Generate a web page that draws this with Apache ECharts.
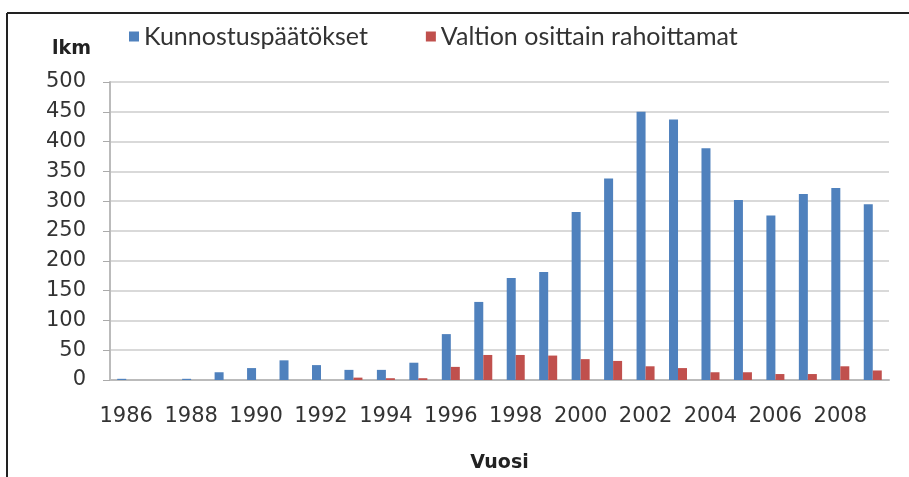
<!DOCTYPE html>
<html>
<head>
<meta charset="utf-8">
<script src="https://cdn.jsdelivr.net/npm/echarts@6/dist/echarts.min.js"></script>
<style>
  html, body { margin: 0; padding: 0; background: #fff; }
  #chart { width: 909px; height: 477px; }
</style>
</head>
<body>
<div id="chart"></div>
<script>
const years = ['1986', '1987', '1988', '1989', '1990', '1991', '1992', '1993', '1994', '1995', '1996', '1997',
  '1998', '1999', '2000', '2001', '2002', '2003', '2004', '2005', '2006', '2007', '2008', '2009']
const kunnostus = [2, 0, 2, 13, 20, 33, 25, 17, 17, 29, 77, 131, 171, 181, 282, 338, 450, 437, 389, 302, 276, 312, 322, 295]
const valtion = [0, 0, 0, 0, 0, 0, 0, 4, 3, 3, 22, 42, 42, 41, 35, 32, 23, 20, 13, 13, 10, 10, 23, 16]
const seriesNames = ['Kunnostuspäätökset', 'Valtion osittain rahoittamat']

const chart = echarts.init(document.getElementById('chart'))
chart.setOption({
  animation: false,
  color: ['#4f81bd', '#c0504d'],
  grid: { left: 110, right: 20, top: 82, bottom: 97, containLabel: false, outerBoundsMode: 'none' },
  legend: {
    left: 124,
    top: 19,
    itemWidth: 10,
    itemHeight: 10,
    itemGap: 58,
    icon: 'rect',
    textStyle: { fontFamily: 'Lato', fontSize: 25, color: '#333' },
    data: seriesNames
  },
  graphic: [
    { type: 'line', shape: { x1: 7, y1: 13, x2: 909, y2: 13 }, style: { stroke: '#222', lineWidth: 2 } },
    { type: 'line', shape: { x1: 7, y1: 13, x2: 7, y2: 477 }, style: { stroke: '#222', lineWidth: 2 } },
    { type: 'text', left: 52, top: 40, style: { text: 'lkm', font: 'bold 19px "DejaVu Sans"', fill: '#222' } }
  ],
  xAxis: {
    type: 'category',
    data: years,
    name: 'Vuosi',
    nameLocation: 'middle',
    nameGap: 74,
    nameTextStyle: { fontFamily: 'DejaVu Sans', fontWeight: 'bold', fontSize: 19, color: '#222' },
    axisLine: { lineStyle: { color: '#bbb', width: 2 } },
    axisTick: { interval: 0, length: 5, lineStyle: { color: '#aaa' } },
    axisLabel: { interval: 1, margin: 26, fontFamily: 'DejaVu Sans', fontSize: 21, color: '#333' }
  },
  yAxis: {
    type: 'value',
    min: 0,
    max: 500,
    interval: 50,
    axisLine: { show: true, lineStyle: { color: '#bbb', width: 2 } },
    axisTick: { show: true, length: 7, lineStyle: { color: '#aaa' } },
    axisLabel: { margin: 24, fontFamily: 'DejaVu Sans', fontSize: 21, color: '#333' },
    splitLine: { lineStyle: { color: '#d9d9d9', width: 2 } }
  },
  series: [
    { name: seriesNames[0], type: 'bar', data: kunnostus, barWidth: 9, barGap: '0%' },
    { name: seriesNames[1], type: 'bar', data: valtion, barWidth: 9, barGap: '0%' }
  ]
})
</script>
</body>
</html>
